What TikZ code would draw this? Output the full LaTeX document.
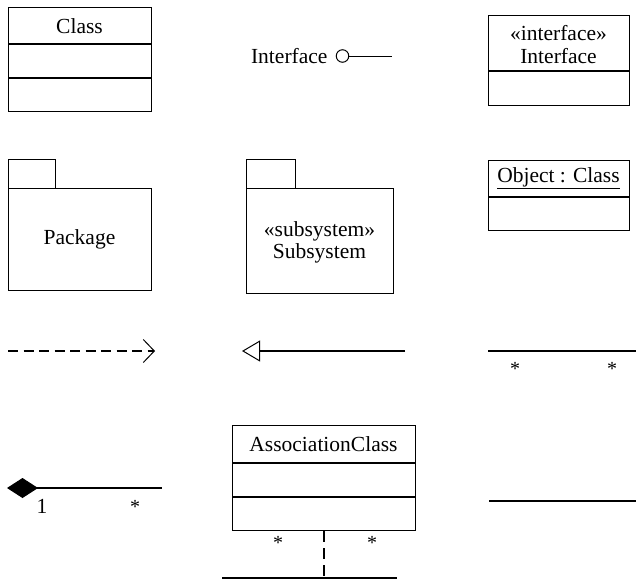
\documentclass[tikz,border=0pt]{standalone}
\usepackage{fontspec}
\setmainfont{Liberation Serif}
\usetikzlibrary{arrows.meta}
\begin{document}
\begin{tikzpicture}[x=1pt,y=-1pt, line width=1.1pt,
  box/.style={draw, rectangle, anchor=north west, inner sep=0pt},
  lbl/.style={font=\fontsize{21.5}{24}\selectfont, inner sep=0pt},
  mult/.style={font=\fontsize{20}{20}\selectfont, inner sep=0pt},
  divider/.style={line width=1.3pt}]
\useasboundingbox (0,0) rectangle (636,581);

% Class
\node[box, minimum width=143pt, minimum height=104pt] (cls) at (8,7) {};
\draw[divider] (8,44) -- (151,44);
\draw[divider] (8,78) -- (151,78);
\node[lbl] (clsname) at (79.5,26) {Class};

% Interface (lollipop)
\node[lbl, anchor=east] (ifname) at (328,56) {Interface};
\node[circle, draw, line width=1pt, minimum size=12.5pt, inner sep=0pt] (lolli) at (342.5,56) {};
\coordinate (lend) at (392,56);
\draw[line width=1pt] (lolli) -- (lend);

% Interface (stereotyped class)
\node[box, minimum width=141pt, minimum height=90pt] (ifbox) at (488,15) {};
\draw[divider] (488,71) -- (629,71);
\node[lbl] (ifster) at (558.5,33) {«interface»};
\node[lbl] (ifbname) at (558.5,56) {Interface};

% Package
\node[box, minimum width=47pt, minimum height=29pt] (pkgtab) at (8,159) {};
\node[box, minimum width=143pt, minimum height=102pt] (pkg) at (8,188) {};
\node[lbl] (pkgname) at (79.5,239) {Package};

% Subsystem
\node[box, minimum width=49pt, minimum height=29pt] (subtab) at (246,159) {};
\node[box, minimum width=147pt, minimum height=105pt] (sub) at (246,188) {};
\node[lbl] (subster) at (319.5,231) {«subsystem»};
\node[lbl] (subname) at (319.5,253) {Subsystem};

% Object
\node[box, minimum width=141pt, minimum height=70pt] (obj) at (488,160) {};
\draw[divider] (488,197) -- (629,197);
\node[lbl] (objname) at (558.5,178) {\underline{Object : Class}};

% Dependency
\coordinate (dep1) at (8,351);
\coordinate (dep2) at (155,351);
\draw[dash pattern=on 10pt off 5.5pt, -{Straight Barb[length=11pt,width=23pt,line width=1pt]}] (dep1) -- (dep2);

% Generalization
\coordinate (gen1) at (405,351);
\coordinate (gen2) at (242,351);
\draw[-{Triangle[open,length=18pt,width=21pt,line width=1pt]}] (gen1) -- (gen2);

% Association with multiplicities
\coordinate (as1) at (488,351);
\coordinate (as2) at (636,351);
\draw (as1) -- (as2);
\node[mult] (asm1) at (515,369) {*};
\node[mult] (asm2) at (612,369) {*};

% Composition
\coordinate (comp1) at (7,488);
\coordinate (comp2) at (162,488);
\draw[{Diamond[length=31pt,width=20pt]}-] (comp1) -- (comp2);
\node[lbl] (compm1) at (42,506) {1};
\node[mult] (compm2) at (135,507) {*};

% Association class
\node[box, minimum width=183pt, minimum height=105pt] (acls) at (232,425) {};
\draw[divider] (232,463) -- (415,463);
\draw[divider] (232,497) -- (415,497);
\node[lbl] (aclsname) at (323.5,444) {AssociationClass};
\coordinate (acjoin) at (324,578);
\coordinate (acl1) at (222,578);
\coordinate (acl2) at (397,578);
\draw (acl1) -- (acl2);
\draw[dash pattern=on 11pt off 6pt] (acls.south -| acjoin) -- (acjoin);
\node[mult] (acm1) at (278,543) {*};
\node[mult] (acm2) at (372,543) {*};

% Plain link
\coordinate (pl1) at (489,501);
\coordinate (pl2) at (636,501);
\draw (pl1) -- (pl2);
\end{tikzpicture}
\end{document}
